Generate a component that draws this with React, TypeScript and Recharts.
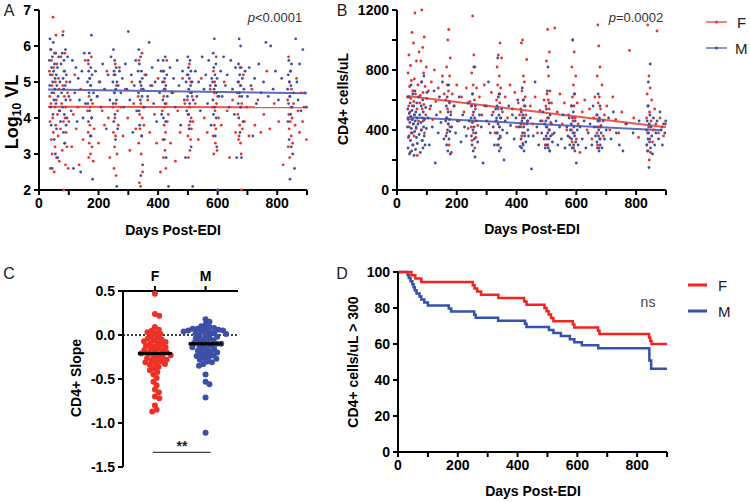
import React from 'react';
import { ScatterChart, Scatter, LineChart, Line, XAxis, YAxis, ReferenceLine } from 'recharts';

type Pt = [number, number];

const RED = '#ee3128';
const BLUE = '#3b50a6';
const FONT = '"Liberation Sans", Arial, Helvetica, sans-serif';

// A: log10 viral load vs days post-EDI
const vlF: Pt[] = [
  [35,5.3],[36,4.6],[37,3.9],[38,2.6],[39,5.9],[40,4.4],[41,3.4],[42,5.6],[43,4.9],[44,3.0],[45,5.2],[46,4.0],[47,6.8],[48,3.6],[49,5.4],[50,4.7],[51,2.5],[52,5.8],[53,4.3],[54,3.2],[55,5.0],[56,3.8],[57,6.3],[58,4.5],[59,2.9],[60,5.5],[62,4.1],[64,3.5],[65,5.1],[67,4.8],[68,2.8],[70,4.2],[72,3.7],[74,5.7],[76,4.4],
  [78,3.1],[80,4.9],[81,6.4],[82,3.9],[83,2.0],[84,5.3],[85,4.6],[86,3.3],[87,5.8],[88,4.0],[89,2.7],[90,4.3],[91,3.6],[92,5.0],[94,3.2],[96,4.7],[98,2.6],[100,3.9],
  [105,4.5],[110,3.2],[115,4.1],[120,5.2],[125,3.7],[130,4.3],[135,2.7],[140,4.8],[148,3.4],[155,5.6],
  [163,4.2],[165,3.6],[166,5.5],[167,2.9],[168,4.6],[169,3.3],[170,5.1],[171,3.8],[172,4.3],[173,3.0],[174,4.9],[175,3.5],[176,5.7],[177,4.0],[178,3.2],[180,4.4],[182,2.8],[185,3.7],
  [195,4.6],[200,3.3],[205,5.0],[212,4.2],[220,3.8],[228,5.3],[233,4.0],[238,2.9],
  [248,4.3],[250,3.6],[251,5.2],[252,2.6],[253,4.7],[254,3.2],[255,4.0],[256,5.5],[257,3.5],[258,4.4],[259,2.4],[260,4.9],[262,3.0],[264,4.2],[266,3.8],[270,5.4],
  [275,4.3],[282,3.5],[290,4.8],[298,4.0],[305,3.1],[312,5.0],[318,4.4],[325,3.7],
  [333,4.6],[335,3.3],[336,5.6],[337,2.2],[338,4.1],[339,3.7],[340,5.0],[341,2.1],[342,4.4],[343,3.0],[344,4.8],[345,3.5],[346,5.8],[347,4.0],[348,2.5],[350,4.3],[352,3.8],[355,5.2],
  [365,4.5],[372,3.6],[380,4.9],[388,4.1],[395,3.3],[400,5.1],[408,2.5],
  [414,4.2],[416,3.4],[417,5.3],[418,2.9],[419,4.6],[420,3.8],[421,5.0],[422,4.3],[423,3.1],[424,4.8],[425,3.6],[426,2.6],[427,4.4],[429,5.6],[431,3.9],[434,4.1],
  [442,3.3],[450,4.7],[458,2.8],[466,4.2],[474,3.6],[482,5.1],[490,4.4],
  [498,4.5],[500,3.5],[501,5.2],[502,2.9],[503,4.1],[504,3.8],[505,5.5],[506,4.3],[507,3.1],[508,4.7],[509,3.4],[510,5.0],[511,4.0],[512,3.7],[514,4.6],[517,3.9],
  [525,4.4],[535,3.4],[545,5.1],[555,4.0],[565,3.6],[575,4.8],
  [583,4.3],[585,3.5],[586,5.3],[587,3.0],[588,4.7],[589,3.8],[590,5.0],[591,4.2],[592,3.3],[593,4.9],[594,3.7],[595,5.7],[596,4.4],[598,3.1],[600,4.6],[603,4.0],
  [612,3.8],[622,5.0],[632,4.2],[640,2.9],[650,4.5],[660,3.6],
  [668,4.1],[670,3.4],[671,5.0],[672,3.5],[673,4.6],[674,3.8],[675,5.4],[676,4.3],[677,3.3],[678,4.9],[679,3.0],[680,2.0],[681,4.4],[683,3.7],[686,5.2],[690,3.9],
  [698,4.3],[705,3.5],[715,4.8],[725,3.8],[735,4.5],[745,3.6],[755,4.1],[765,5.3],[775,3.7],[790,4.4],[805,3.9],[820,2.7],
  [835,4.5],[837,3.2],[838,5.7],[839,4.1],[840,3.7],[841,5.0],[842,2.9],[843,4.6],[844,3.9],[845,5.3],[846,4.3],[847,3.5],[848,4.8],[850,4.0],[852,3.3],[855,4.4],[860,3.8],[865,5.1],
  [870,4.2],[875,3.6],[880,4.7],[885,3.9],[890,4.3],[898,3.4],
];
const vlM: Pt[] = [
  [35,5.6],[36,4.9],[37,6.2],[38,5.2],[39,4.3],[40,5.9],[41,3.8],[42,5.4],[43,4.7],[44,2.6],[45,5.7],[46,5.0],[47,4.1],[48,6.1],[49,5.3],[50,4.5],[51,3.4],[52,5.5],[53,4.8],[54,5.1],[55,3.0],[56,5.8],[57,4.4],[58,5.2],[59,3.7],[60,4.9],[62,5.4],[63,2.9],[64,4.6],[66,5.7],[68,4.2],[70,5.0],[72,3.9],[74,5.5],[76,4.7],
  [78,5.8],[79,4.3],[80,6.3],[81,5.1],[82,3.6],[83,4.8],[84,5.6],[85,4.1],[86,5.3],[87,3.3],[88,4.9],[89,5.9],[90,4.5],[91,3.8],[92,5.2],[94,4.0],[96,5.7],[100,4.6],
  [104,5.0],[108,4.2],[112,5.6],[116,2.6],[120,4.7],[124,5.4],[128,3.9],[132,5.1],[136,4.5],[140,2.5],[144,5.3],[148,4.0],[152,5.8],[156,4.4],
  [163,5.0],[164,4.4],[165,5.6],[166,3.9],[167,5.3],[168,4.7],[169,5.8],[170,4.2],[171,5.1],[172,3.5],[173,4.9],[174,5.4],[175,4.5],[176,6.3],[177,4.0],[178,5.2],[180,2.3],[183,4.7],
  [190,5.3],[196,4.6],[202,5.0],[208,4.3],[214,5.5],[220,4.8],[226,3.7],[232,5.2],[238,4.5],[242,5.7],
  [248,5.0],[249,4.4],[250,5.9],[251,3.9],[252,5.3],[253,4.7],[254,5.6],[255,4.1],[256,5.2],[257,3.4],[258,4.8],[259,5.4],[260,4.5],[261,2.1],[262,5.0],[264,3.7],[266,4.9],[270,5.3],
  [275,4.7],[280,5.1],[285,4.3],[290,5.5],[295,4.8],[300,6.4],[305,4.5],[310,5.2],[315,3.6],[320,4.9],[325,5.6],[328,4.2],
  [333,5.3],[334,4.7],[335,5.9],[336,4.2],[337,5.5],[338,3.8],[339,5.0],[340,4.5],[341,5.7],[342,2.4],[343,4.9],[344,5.3],[345,3.5],[346,4.6],[347,5.1],[348,2.7],[350,4.8],[353,4.3],
  [360,5.2],[365,4.6],[370,6.1],[375,4.9],[380,5.4],[385,4.4],[390,5.0],[395,3.9],[400,5.6],[405,4.7],[410,5.3],[412,4.1],
  [415,5.0],[416,4.5],[417,5.6],[418,4.0],[419,5.3],[420,4.8],[421,3.4],[422,5.1],[423,4.4],[424,5.7],[425,3.9],[426,4.9],[427,2.9],[429,5.2],[431,4.6],[435,2.1],
  [440,5.4],[446,4.7],[452,5.1],[458,4.3],[464,5.6],[470,4.9],[476,3.8],[482,5.3],[488,4.5],[492,2.9],[494,5.0],[496,4.2],
  [498,5.2],[499,4.6],[500,5.7],[501,4.1],[502,5.4],[503,4.8],[504,3.7],[505,5.1],[506,4.4],[507,5.6],[508,3.9],[509,4.9],[510,5.3],[511,3.2],[512,4.7],[514,5.0],[516,2.1],[518,4.5],
  [525,5.3],[530,4.6],[536,5.0],[542,4.2],[548,5.7],[554,4.8],[560,5.2],[566,4.4],[570,5.6],[575,4.9],[578,3.8],[580,5.1],
  [583,5.0],[584,4.5],[585,5.8],[586,4.1],[587,5.4],[588,4.8],[589,6.2],[590,4.3],[591,5.2],[592,3.5],[593,4.9],[594,5.5],[595,4.0],[596,4.7],[597,3.2],[598,5.1],[600,2.0],[604,4.6],
  [610,5.3],[615,4.6],[620,5.7],[626,4.9],[632,5.2],[638,4.3],[644,5.6],[650,4.8],[656,4.1],[660,5.4],[664,2.9],[666,4.7],
  [668,5.0],[669,4.4],[670,5.5],[671,4.0],[672,6.2],[673,4.7],[674,5.2],[675,3.6],[676,4.9],[677,6.0],[678,4.3],[679,5.4],[680,2.9],[681,4.6],[683,5.1],[685,3.9],[688,4.8],[692,5.3],
  [700,4.6],[706,5.4],[712,4.9],[718,3.5],[724,5.1],[730,4.4],[738,5.5],[746,4.7],[754,5.0],[762,6.1],[770,4.6],[778,6.0],[786,4.8],[794,5.3],[804,4.5],[815,5.1],
  [835,4.8],[836,3.9],[837,5.2],[838,4.4],[839,5.6],[840,3.4],[841,5.0],[842,4.6],[843,2.3],[844,5.3],[845,4.1],[846,4.9],[847,3.2],[848,5.5],[850,4.3],[852,3.0],[855,4.7],[858,2.6],
  [862,6.2],[866,5.0],[870,4.5],[875,5.5],[880,4.2],[886,5.9],[892,4.7],[898,4.3],
];
const fitVlF: Pt[] = [[30, 4.31], [900, 4.3]];
const fitVlM: Pt[] = [[30, 4.79], [900, 4.69]];

// B: CD4+ cells/uL vs days post-EDI
const cd4F: Pt[] = [
  [35,620],[36,480],[37,780],[38,350],[39,560],[40,900],[41,420],[42,690],[43,520],[44,250],[45,830],[46,610],[47,380],[48,730],[49,470],[50,1050],[51,560],[52,300],[53,660],[54,440],[55,980],[56,590],[57,360],[58,740],[59,500],[60,1180],[62,640],[64,410],[65,860],[67,540],[68,230],[70,700],[72,460],[74,920],[76,580],
  [78,630],[80,860],[81,400],[82,720],[83,1200],[84,540],[85,330],[86,950],[87,650],[88,460],[89,780],[90,570],[91,1020],[92,380],[94,690],[96,500],[98,820],[100,610],
  [105,660],[110,540],[115,720],[120,470],[125,800],[130,590],[138,680],[145,520],[152,760],[158,640],
  [163,600],[165,480],[166,820],[167,380],[168,700],[169,540],[170,1000],[171,440],[172,660],[173,1070],[174,300],[175,590],[176,760],[177,420],[178,880],[180,520],[182,250],[185,640],
  [192,560],[200,700],[208,460],[216,620],[224,520],[232,680],[238,410],[244,590],
  [248,560],[249,420],[250,780],[251,330],[252,640],[253,1160],[254,500],[255,700],[256,380],[257,900],[258,460],[259,600],[260,280],[261,820],[262,540],[264,350],[266,680],[270,430],
  [276,620],[284,500],[292,700],[300,560],[308,440],[316,650],[322,520],[328,380],
  [333,600],[334,460],[335,820],[336,380],[337,700],[338,540],[339,900],[340,300],[341,640],[342,760],[343,420],[344,580],[345,980],[346,350],[347,680],[348,480],[350,880],[353,520],
  [362,620],[370,480],[378,700],[386,540],[394,650],[400,420],[406,580],[410,500],
  [414,540],[415,420],[416,980],[417,360],[418,660],[419,480],[420,1000],[421,310],[422,600],[423,760],[424,440],[425,560],[426,720],[427,380],[429,620],[431,500],[434,870],[438,460],
  [446,560],[454,440],[462,620],[470,380],[478,530],[486,460],[492,600],[496,300],
  [498,560],[499,420],[500,860],[501,340],[502,640],[503,480],[504,1070],[505,300],[506,600],[507,760],[508,400],[509,540],[510,920],[511,260],[512,660],[514,450],[517,580],[520,370],
  [528,1080],[536,520],[545,640],[553,440],[560,580],[568,400],[574,500],[578,350],
  [583,560],[584,400],[585,820],[586,320],[587,620],[588,1000],[589,460],[590,700],[591,280],[592,560],[593,920],[594,380],[595,640],[596,480],[598,760],[600,340],[603,580],[606,440],
  [612,250],[620,520],[628,600],[636,400],[644,540],[652,340],[658,480],[662,620],
  [668,500],[669,380],[670,760],[671,300],[672,1100],[673,580],[674,420],[675,960],[676,280],[677,620],[678,460],[679,820],[680,340],[681,540],[683,430],[686,700],[690,360],[694,500],
  [702,560],[712,400],[722,620],[732,470],[742,380],[752,520],[765,440],[778,930],[792,480],[808,350],
  [835,480],[836,300],[837,640],[838,380],[839,1100],[840,260],[841,560],[842,420],[843,760],[844,200],[845,520],[846,340],[847,680],[848,250],[850,460],[852,600],[855,320],[858,400],
  [862,540],[866,440],[870,1060],[875,380],[880,480],[886,420],[892,360],[898,440],
];
const cd4M: Pt[] = [
  [35,420],[36,540],[37,280],[38,470],[39,620],[40,360],[41,510],[42,240],[43,450],[44,580],[45,330],[46,490],[47,700],[48,410],[49,260],[50,530],[51,380],[52,470],[53,640],[54,300],[55,440],[56,560],[57,230],[58,500],[59,390],[60,660],[61,460],[62,270],[63,520],[64,420],[65,350],[66,580],[67,480],[68,310],[70,440],[72,620],[74,370],[76,500],[78,250],[80,450],
  [81,560],[82,400],[83,720],[84,330],[85,480],[86,600],[87,280],[88,520],[89,420],[90,760],[91,360],[92,470],[94,300],[96,550],[98,410],[100,650],
  [104,480],[108,300],[113,560],[118,420],[124,660],[128,180],[132,500],[138,380],[142,620],[147,450],[152,720],[157,340],
  [163,460],[164,360],[165,560],[166,300],[167,480],[168,620],[169,400],[170,260],[171,520],[172,440],[173,700],[174,340],[175,470],[176,580],[177,390],[178,240],[180,500],[183,420],
  [190,560],[196,380],[202,460],[208,620],[214,320],[220,500],[226,420],[232,360],[238,580],[242,460],
  [248,480],[249,360],[250,560],[251,300],[252,450],[253,640],[254,400],[255,260],[256,520],[257,820],[258,420],[259,340],[260,480],[261,220],[262,560],[264,380],[266,460],[270,320],
  [276,500],[282,420],[288,180],[294,560],[300,460],[306,720],[312,380],[318,500],[322,420],[326,300],[330,540],[331,460],
  [333,480],[334,380],[335,560],[336,300],[337,880],[338,440],[339,620],[340,340],[341,500],[342,260],[343,420],[344,640],[345,360],[346,480],[347,280],[350,540],[353,400],[358,200],
  [362,460],[368,380],[374,560],[380,430],[386,500],[392,340],[398,480],[404,600],[408,420],[412,290],[436,460],[440,360],
  [414,440],[415,340],[416,520],[417,280],[418,460],[419,680],[420,380],[421,500],[422,300],[423,600],[424,420],[425,260],[426,480],[427,360],[429,560],[431,320],[434,440],[438,400],
  [446,480],[450,140],[456,360],[462,720],[468,420],[474,300],[480,460],[484,380],[488,520],[492,340],[494,440],[496,280],
  [498,460],[499,360],[500,540],[501,300],[502,420],[503,660],[504,380],[505,820],[506,280],[507,480],[508,340],[509,580],[510,400],[511,260],[512,500],[514,360],[517,440],[520,320],
  [526,380],[532,460],[538,300],[544,420],[550,340],[556,500],[562,280],[568,420],[572,360],[576,480],[578,300],[580,400],
  [583,440],[584,340],[585,560],[586,280],[587,480],[588,1000],[589,380],[590,520],[591,300],[592,420],[593,640],[594,360],[595,260],[596,460],[598,320],[600,180],[603,400],[606,300],
  [612,420],[620,340],[626,460],[632,280],[640,380],[646,440],[652,300],[656,560],[660,420],[664,360],
  [668,420],[669,320],[670,500],[671,280],[672,460],[673,640],[674,360],[675,400],[676,260],[677,480],[678,340],[679,560],[680,300],[681,420],[683,380],[686,280],[690,460],[694,340],
  [700,400],[708,480],[716,340],[724,520],[734,380],[744,300],[756,260],[768,440],[790,380],[810,460],
  [835,400],[836,300],[837,460],[838,260],[839,560],[840,340],[841,720],[842,380],[843,150],[844,440],[845,320],[846,500],[847,840],[848,280],[850,420],[852,360],[855,240],[858,480],[862,300],[866,380],
  [870,460],[875,340],[880,520],[884,400],[888,300],[892,440],[896,380],[899,460],
];
const fitCd4F: Pt[] = [[35, 626], [900, 418]];
const fitCd4M: Pt[] = [[35, 485], [886, 398]];

// C: per-person CD4+ slope
const slopeF = [0.47,0.24,0.22,0.09,0.06,0.05,0.03,0.02,0.01,-0.01,-0.03,-0.04,-0.05,-0.06,-0.07,-0.08,-0.09,-0.1,-0.11,-0.12,-0.13,-0.14,-0.15,-0.16,-0.17,-0.18,-0.19,-0.2,-0.21,-0.21,-0.22,-0.23,-0.24,-0.25,-0.26,-0.27,-0.28,-0.29,-0.3,-0.31,-0.32,-0.33,-0.34,-0.36,-0.38,-0.4,-0.42,-0.45,-0.49,-0.53,-0.57,-0.62,-0.65,-0.7,-0.72,-0.8,-0.85,-0.87];
const slopeM = [0.18,0.15,0.12,0.1,0.09,0.08,0.07,0.07,0.06,0.06,0.05,0.05,0.04,0.04,0.03,0.02,0.02,0.01,0,-0.01,-0.02,-0.03,-0.04,-0.05,-0.06,-0.07,-0.08,-0.09,-0.1,-0.1,-0.11,-0.12,-0.13,-0.14,-0.15,-0.16,-0.17,-0.18,-0.19,-0.2,-0.21,-0.22,-0.23,-0.24,-0.25,-0.26,-0.27,-0.28,-0.3,-0.31,-0.33,-0.35,-0.45,-0.53,-0.56,-0.71,-1.11];
const groups = ['F', 'M'];

// D: % with CD4+ > 300 (Kaplan-Meier)
const kmF: Pt[] = [[0,100],[45,98.2],[58,96.4],[78,94.5],[250,92.7],[256,90.9],[265,89.1],[278,87.3],[336,85.5],[422,83.6],[430,81.8],[490,80],[497,78.2],[504,76.4],[512,74.5],[520,72.7],[585,70.9],[590,69.1],[669,67.3],[674,65.5],[840,63.6],[844,61.8],[848,60],[900,60]];
const kmM: Pt[] = [[0,100],[32,98.3],[36,96.6],[42,94.9],[48,93.2],[52,91.5],[56,89.8],[62,88.1],[72,86.4],[78,84.7],[88,83],[100,81.4],[170,79.7],[178,78],[255,76.3],[260,74.6],[335,72.9],[425,71.2],[430,69.5],[505,67.8],[520,66.1],[545,64.4],[575,62.7],[590,61],[615,59.3],[670,57.6],[841,50.8],[847,46.3],[900,46.3]];

const dayTicks = [0, 100, 200, 300, 400, 500, 600, 700, 800, 900];
const vlTicks = [2, 3, 4, 5, 6, 7];
const cd4Ticks = [0, 200, 400, 600, 800, 1000, 1200];
const slopeTicks = [-1.5, -1, -0.5, 0, 0.5];
const pctTicks = [0, 20, 40, 60, 80, 100];

const toXY = (pts: Pt[]) => pts.map(([x, y]) => ({ x, y }));

const axis = {
  axisLine: { stroke: '#000', strokeWidth: 2 },
  tickLine: { stroke: '#000', strokeWidth: 2 },
  tickSize: 5,
  tickMargin: 3,
  interval: 0 as const,
  tick: { fill: '#000', fontSize: 14, fontWeight: 700, fontFamily: FONT },
};

const dayLabel = (v: number) => (v % 200 === 0 ? String(v) : '');

const dot = (color: string, r: number) => (p: any) =>
  <circle cx={p.cx + (p.payload?.dx ?? 0)} cy={p.cy} r={r} fill={color} />;

const medianBar = (p: any) => <rect x={p.cx - 17} y={p.cy - 1.6} width={34} height={3.2} fill="#000" />;

// simple beeswarm: offsets in px so dots don't overlap
const swarm = (vals: number[], pxPerUnit: number, diam: number, group: number) => {
  const placed: { y: number; dx: number }[] = [];
  return [...vals].sort((a, b) => b - a).map((v) => {
    const y = v * pxPerUnit;
    const near = placed.filter((p) => Math.abs(p.y - y) < diam);
    const cands = [0];
    near.forEach((p) => {
      const w = Math.sqrt(diam * diam - (p.y - y) ** 2);
      cands.push(p.dx + w, p.dx - w);
    });
    const ok = cands
      .filter((c) => near.every((p) => (p.dx - c) ** 2 + (p.y - y) ** 2 >= diam * diam - 0.01))
      .sort((a, b) => Math.abs(a) - Math.abs(b));
    placed.push({ y, dx: ok[0] });
    return { x: group, y: v, dx: ok[0] };
  });
};

const median = (vals: number[]) => {
  const s = [...vals].sort((a, b) => a - b);
  const m = Math.floor(s.length / 2);
  return s.length % 2 ? s[m] : (s[m - 1] + s[m]) / 2;
};

const fitSeg = (f: Pt[]) => f.map(([x, y]) => ({ x, y }));

const Txt = ({ x, y, size = 14, bold = false, rot = false, anchor = 'middle', color = '#000', children }: any) => (
  <g transform={`translate(${x} ${y})${rot ? ' rotate(-90)' : ''}`}>
    <text
      x={0}
      y={0}
      fontSize={size}
      fontWeight={bold ? 700 : 400}
      fontFamily={FONT}
      fill={color}
      textAnchor={anchor}
      dominantBaseline="central"
    >
      {children}
    </text>
  </g>
);

export default function App() {
  const swF = swarm(slopeF, 88, 4.7, 1);
  const swM = swarm(slopeM, 88, 4.7, 2);
  const medF = [{ x: 1, y: median(slopeF) }];
  const medM = [{ x: 2, y: median(slopeM) }];

  return (
    <div style={{ position: 'absolute', left: 0, top: 0, width: 750, height: 502, background: '#fff', overflow: 'hidden', fontFamily: FONT }}>
      {/* A */}
      <div style={{ position: 'absolute', left: 0, top: 0 }}>
        <ScatterChart width={320} height={240} margin={{ top: 10, right: 13, bottom: 20, left: 0 }}>
          <XAxis type="number" dataKey="x" domain={[0, 900]} ticks={dayTicks} tickFormatter={dayLabel} height={30} {...axis} />
          <YAxis type="number" dataKey="y" domain={[2, 7]} ticks={vlTicks} width={39} {...axis} />
          <Scatter data={toXY(vlF)} shape={dot(RED, 1.4)} isAnimationActive={false} />
          <Scatter data={toXY(vlM)} shape={dot(BLUE, 1.4)} isAnimationActive={false} />
          <ReferenceLine segment={fitSeg(fitVlM)} stroke="#5b6ec2" strokeWidth={2} />
          <ReferenceLine segment={fitSeg(fitVlF)} stroke="#f0564a" strokeWidth={2} />
        </ScatterChart>
      </div>

      {/* B */}
      <div style={{ position: 'absolute', left: 340, top: 0 }}>
        <ScatterChart width={340} height={240} margin={{ top: 10, right: 14, bottom: 20, left: 0 }}>
          <XAxis type="number" dataKey="x" domain={[0, 900]} ticks={dayTicks} tickFormatter={dayLabel} height={30} {...axis} />
          <YAxis type="number" dataKey="y" domain={[0, 1200]} ticks={cd4Ticks} tickFormatter={(v: number) => (v % 400 === 0 ? String(v) : '')} width={57} {...axis} />
          <Scatter data={toXY(cd4F)} shape={dot(RED, 1.4)} isAnimationActive={false} />
          <Scatter data={toXY(cd4M)} shape={dot(BLUE, 1.4)} isAnimationActive={false} />
          <ReferenceLine segment={fitSeg(fitCd4M)} stroke="#5b6ec2" strokeWidth={2} />
          <ReferenceLine segment={fitSeg(fitCd4F)} stroke="#f0564a" strokeWidth={2} />
        </ScatterChart>
      </div>

      {/* C */}
      <div style={{ position: 'absolute', left: 0, top: 240 }}>
        <ScatterChart width={260} height={240} margin={{ top: 21, right: 22, bottom: 13, left: 0 }}>
          <XAxis
            type="number"
            dataKey="x"
            orientation="top"
            domain={[0.37, 2.64]}
            ticks={[1, 2]}
            tickFormatter={(v: number) => groups[v - 1]}
            height={30}
            allowDataOverflow
            {...axis}
            tickMargin={5}
          />
          <YAxis type="number" dataKey="y" domain={[-1.5, 0.5]} ticks={slopeTicks} tickFormatter={(v: number) => v.toFixed(1)} width={123} {...axis} />
          <ReferenceLine y={0} stroke="#000" strokeWidth={1.5} strokeDasharray="2 2" />
          <ReferenceLine segment={[{ x: 0.96, y: -1.333 }, { x: 2.1, y: -1.333 }]} stroke="#444" strokeWidth={1.2} />
          <Scatter data={swF} shape={dot(RED, 3)} isAnimationActive={false} />
          <Scatter data={swM} shape={dot(BLUE, 3)} isAnimationActive={false} />
          <Scatter data={medF} shape={medianBar} isAnimationActive={false} />
          <Scatter data={medM} shape={medianBar} isAnimationActive={false} />
        </ScatterChart>
      </div>

      {/* D */}
      <div style={{ position: 'absolute', left: 340, top: 240 }}>
        <LineChart width={340} height={240} margin={{ top: 32, right: 13, bottom: 0, left: 0 }}>
          <XAxis type="number" dataKey="x" domain={[0, 900]} ticks={dayTicks} tickFormatter={dayLabel} height={28} allowDuplicatedCategory={false} {...axis} />
          <YAxis type="number" dataKey="y" domain={[0, 100]} ticks={pctTicks} width={58} {...axis} />
          <Line data={toXY(kmM)} dataKey="y" type="stepAfter" stroke="#3452b0" strokeWidth={2.5} dot={false} isAnimationActive={false} />
          <Line data={toXY(kmF)} dataKey="y" type="stepAfter" stroke="#f5231c" strokeWidth={2.5} dot={false} isAnimationActive={false} />
        </LineChart>
      </div>

      {/* text and legends */}
      <svg width={750} height={502} style={{ position: 'absolute', left: 0, top: 0, pointerEvents: 'none' }}>
        <Txt x={9} y={10} size={16} color="#222">A</Txt>
        <Txt x={342} y={10} size={16} color="#222">B</Txt>
        <Txt x={9} y={273} size={16} color="#222">C</Txt>
        <Txt x={342} y={273} size={16} color="#222">D</Txt>

        <g transform="translate(12 112) rotate(-90)">
          <text x={0} y={0} fontSize={18} fontWeight={700} fontFamily={FONT} textAnchor="middle" dominantBaseline="central">
            Log<tspan fontSize={12} dy={5}>10</tspan><tspan dy={-5}> VL</tspan>
          </text>
        </g>
        <Txt x={173} y={230} bold>Days Post-EDI</Txt>
        <Txt x={275} y={17} size={13} color="#333"><tspan fontStyle="italic">p</tspan>&lt;0.0001</Txt>

        <Txt x={343} y={99} bold rot>CD4+ cells/uL</Txt>
        <Txt x={532} y={229} bold>Days Post-EDI</Txt>
        <Txt x={636} y={17} size={13} color="#333"><tspan fontStyle="italic">p</tspan>=0.0002</Txt>

        <line x1={706} x2={727} y1={22} y2={22} stroke={RED} strokeWidth={1.2} />
        <circle cx={716.5} cy={22} r={1.5} fill={RED} />
        <Txt x={737} y={22} size={15} anchor="start" color="#222">F</Txt>
        <line x1={706} x2={727} y1={48} y2={48} stroke={BLUE} strokeWidth={1.2} />
        <circle cx={716.5} cy={48} r={1.5} fill={BLUE} />
        <Txt x={735} y={48} size={15} anchor="start" color="#222">M</Txt>

        <Txt x={76} y={378} bold rot>CD4+ Slope</Txt>
        <Txt x={182} y={446} size={14} bold color="#222">**</Txt>

        <Txt x={353} y={362} bold rot>CD4+ cells/uL &gt; 300</Txt>
        <Txt x={533} y={491} bold>Days Post-EDI</Txt>
        <Txt x={648} y={302} size={14} color="#444">ns</Txt>

        <line x1={688} x2={707} y1={285} y2={285} stroke="#f5231c" strokeWidth={3} />
        <Txt x={718} y={285} size={15} anchor="start" color="#222">F</Txt>
        <line x1={688} x2={707} y1={311} y2={311} stroke="#3452b0" strokeWidth={3} />
        <Txt x={718} y={311} size={15} anchor="start" color="#222">M</Txt>
      </svg>
    </div>
  );
}
